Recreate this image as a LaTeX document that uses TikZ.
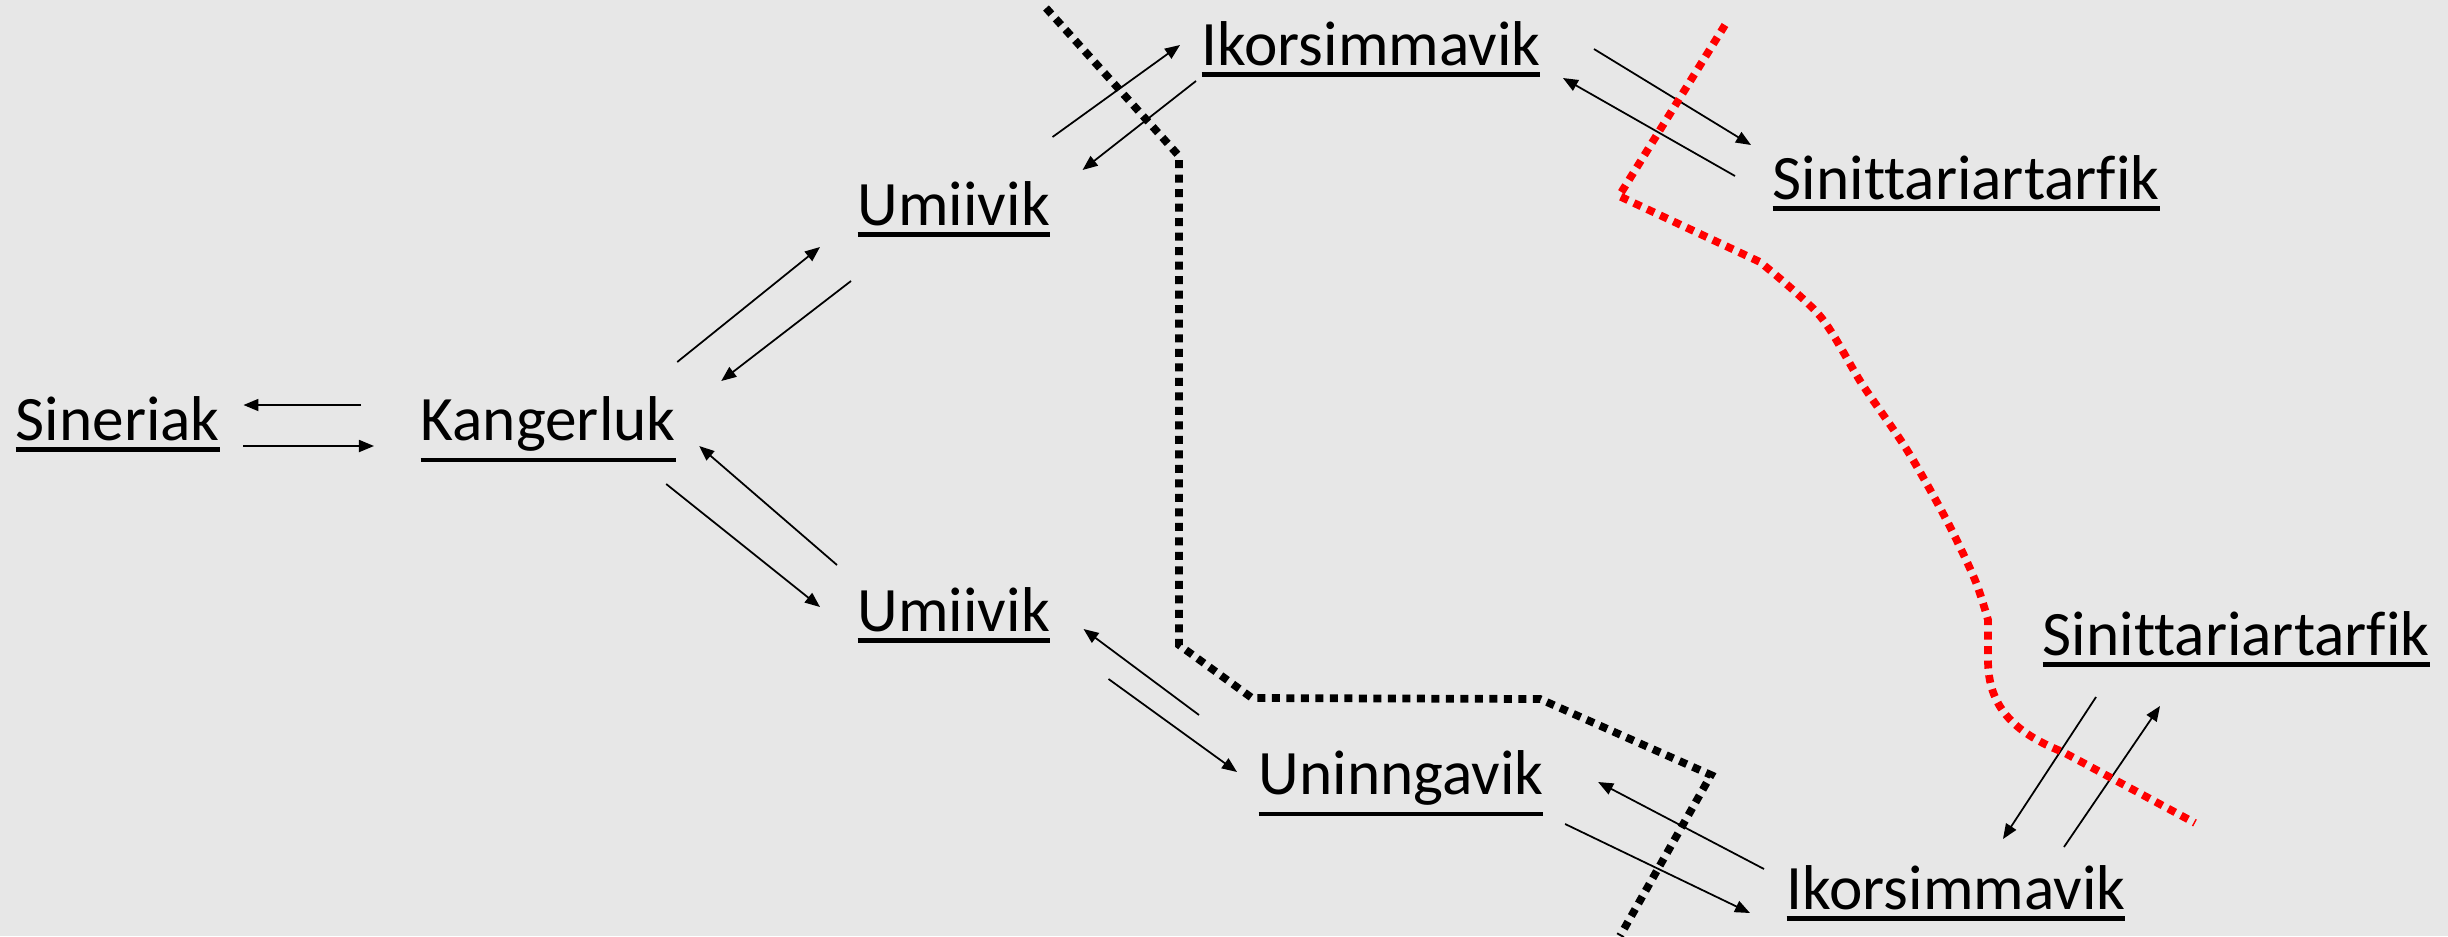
\documentclass[tikz,border=0pt]{standalone}
\usepackage{fontspec}
\setmainfont{Carlito}[Ligatures=NoCommon]
\usetikzlibrary{arrows.meta}
\newcommand\ul[1]{\vtop{\hbox{#1}\kern1.9pt\hrule height 1.3pt}}
\definecolor{bggray}{RGB}{231,231,231}
\begin{document}
\begin{tikzpicture}[
x=0.01cm, y=-0.01cm,
place/.style={inner sep=0pt, anchor=base west, font=\fontsize{18}{22}\selectfont},
arr/.style={line width=0.5pt, -{Triangle[length=0.15cm,width=0.12cm]}},
border/.style={line width=2.2pt, dash pattern=on 0.08cm off 0.065cm}
]
\fill[bggray] (0,0) rectangle (2448,936);
\useasboundingbox (0,0) rectangle (2448,936);

\node[place] (sin) at (15,440) {\ul{Sineriak}};
\node[place] (kang) at (420,440) {\ul{Kangerluk}};
\node[place] (umiA) at (857,225) {\ul{Umiivik}};
\node[place] (umiB) at (857,631) {\ul{Umiivik}};
\node[place] (ikoA) at (1201,65) {\ul{Ikorsimmavik}};
\node[place] (sitA) at (1772,199) {\ul{Sinittariartarfik}};
\node[place] (uni) at (1258,794) {\ul{Uninngavik}};
\node[place] (ikoB) at (1786,909) {\ul{Ikorsimmavik}};
\node[place] (sitB) at (2042,655) {\ul{Sinittariartarfik}};

% Sineriak -- Kangerluk
\draw[arr] ([shift={(-59,-35)}]kang.base west) -- ([shift={(23,-35)}]sin.base east);
\draw[arr] ([shift={(23,6)}]sin.base east) -- ([shift={(-46,6)}]kang.base west);
% Kangerluk -- Umiivik
\draw[arr] ([shift={(1,-78)}]kang.base east) -- ([shift={(-37,22)}]umiA.base west);
\draw[arr] ([shift={(-6,56)}]umiA.base west) -- ([shift={(45,-59)}]kang.base east);
\draw[arr] ([shift={(-20,-66)}]umiB.base west) -- ([shift={(23,6)}]kang.base east);
\draw[arr] ([shift={(-10,44)}]kang.base east) -- ([shift={(-37,-24)}]umiB.base west);
% Umiivik -- Ikorsimmavik -- Sinittariartarfik
\draw[arr] ([shift={(2,-88)}]umiA.base east) -- ([shift={(-21,-20)}]ikoA.base west);
\draw[arr] ([shift={(-5,16)}]ikoA.base west) -- ([shift={(32,-55)}]umiA.base east);
\draw[arr] ([shift={(53,-16)}]ikoA.base east) -- ([shift={(-21,-54)}]sitA.base west);
\draw[arr] ([shift={(-37,-23)}]sitA.base west) -- ([shift={(22,13)}]ikoA.base east);
% Umiivik -- Uninngavik -- Ikorsimmavik -- Sinittariartarfik
\draw[arr] ([shift={(-59,-79)}]uni.base west) -- ([shift={(33,-2)}]umiB.base east);
\draw[arr] ([shift={(58,48)}]umiB.base east) -- ([shift={(-21,-22)}]uni.base west);
\draw[arr] ([shift={(-22,-40)}]ikoB.base west) -- ([shift={(54,-12)}]uni.base east);
\draw[arr] ([shift={(21,30)}]uni.base east) -- ([shift={(-36,4)}]ikoB.base west);
\draw[arr] ([shift={(54,42)}]sitB.base west) -- ([shift={(47,-70)}]ikoB.base);
\draw[arr] ([shift={(108,-62)}]ikoB.base) -- ([shift={(118,51)}]sitB.base west);

% borders
\draw[border] (1046,8) -- (1179,156) -- (1179,645) -- (1252,698) -- (1540,699) -- (1711,775) -- (1620,936);
\draw[border, red] (1725,25) -- (1619,196) -- (1760,262)
  -- plot[smooth, tension=0.5] coordinates {(1760,262) (1820,316) (1862,384) (1907,450) (1947,521) (1975,580) (1988,620)}
  -- (1988,660) .. controls (1988,705) and (2012,732) .. (2063,752) -- (2195,823);
\end{tikzpicture}
\end{document}
